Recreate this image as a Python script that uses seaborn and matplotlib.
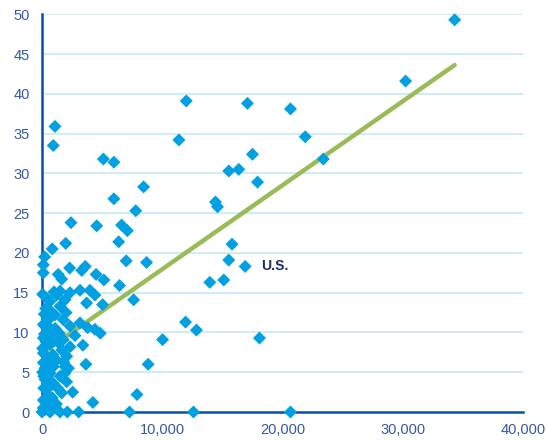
import numpy as np
import pandas as pd
import matplotlib
matplotlib.use("Agg")
import matplotlib.pyplot as plt
import seaborn as sns
from matplotlib.ticker import FuncFormatter

# values
x_vals = [
    34330, 30250, 21900, 23400, 20670, 17090, 12000, 11390, 17510, 15540,
    16370, 17930, 14430, 14600, 15810, 15540, 16900, 13960, 15120, 11940,
    12850, 18090, 12600, 20670,
    5100, 5980, 8450, 5980, 7800, 4550, 6620, 7100, 6380, 7000,
    8700, 4500, 5150, 6450, 7620, 5040, 4400, 4850, 10030, 8830,
    7900, 4230, 7280, 4400, 3990, 3160, 3710, 3300, 3600,
    1080, 940, 2410, 1970, 850, 220, 110, 110, 1350, 1640,
    2300, 470, 1000, 1500, 1910, 1500, 2330, 660, 1220, 190,
    660, 110, 2330, 3160, 3800, 1440, 2740, 110, 3400, 2330,
    1640, 660, 2050, 3650, 110, 940, 1910, 1910, 2050, 250,
    940, 1640, 2550, 390, 110, 0, 660, 1500, 2100, 3050,
    1080, 1770, 390, 1770, 110, 660, 1500, 250,
    50, 300, 500, 200, 350, 50, 400, 600, 250, 50,
    450, 700, 150, 500, 300, 600, 100, 800, 400, 150,
    700, 900, 1200, 1300, 1100, 1800, 2200, 1300, 1200, 2000,
    550, 850, 250, 1000, 650,
]
y_vals = [
    49.3, 41.6, 34.6, 31.8, 38.1, 38.8, 39.1, 34.2, 32.4, 30.3,
    30.5, 28.9, 26.4, 25.8, 21.1, 19.1, 18.3, 16.3, 16.6, 11.3,
    10.3, 9.3, 0.0, 0.0,
    31.8, 31.4, 28.3, 26.8, 25.3, 23.4, 23.5, 22.8, 21.4, 19.0,
    18.8, 17.3, 16.6, 15.9, 14.1, 13.5, 10.4, 9.9, 9.1, 6.0,
    2.2, 1.2, 0.0, 14.7, 15.3, 15.3, 13.7, 17.8, 18.3,
    35.9, 33.5, 23.8, 21.2, 20.5, 19.5, 18.5, 17.5, 17.3, 16.7,
    18.1, 14.2, 15.1, 15.2, 14.1, 13.3, 15.0, 13.9, 14.7, 12.3,
    11.8, 11.0, 10.8, 11.2, 10.6, 9.9, 9.6, 9.3, 8.4, 8.2,
    7.8, 8.5, 7.0, 6.0, 6.2, 5.7, 5.7, 4.9, 3.8, 4.1,
    3.6, 2.4, 2.5, 2.8, 1.5, 0.0, 0.0, 0.0, 0.0, 0.0,
    12.2, 11.6, 11.0, 9.1, 7.4, 4.9, 4.5, 0.3,
    14.8, 13.0, 10.0, 9.8, 8.8, 8.0, 7.0, 6.5, 5.5, 5.0,
    4.5, 3.8, 3.0, 2.0, 1.2, 0.8, 0.5, 0.2, 6.0, 4.5,
    9.5, 7.2, 6.5, 8.8, 10.5, 6.3, 5.5, 3.0, 1.0, 12.5,
    3.2, 1.8, 10.8, 6.8, 12.8,
]

# trend line
fit_intercept = 7.4
fit_slope = 0.001055

label_text = "U.S."
label_x = 18200
label_y = 18.3

x_ticks = [0, 10000, 20000, 30000, 40000]
y_ticks = [0, 5, 10, 15, 20, 25, 30, 35, 40, 45, 50]

df = pd.DataFrame({"x": x_vals, "y": y_vals})
line_x = np.array([0, df["x"].max()])
line_df = pd.DataFrame({"x": line_x, "y": fit_intercept + fit_slope * line_x})

sns.set_style("white")
plt.rcParams["font.family"] = ["Liberation Sans", "DejaVu Sans"]

point_color = "#00A0E2"
axis_color = "#0A4DAE"
tick_color = "#3459A8"
grid_color = "#C5EAF7"

fig = plt.figure(figsize=(5.47, 4.40), dpi=100)
ax = fig.add_axes([0.0768, 0.0636, 0.879, 0.904])

for yv in y_ticks[1:]:
    ax.axhline(yv, color=grid_color, lw=1.2, zorder=0)

sns.lineplot(data=line_df, x="x", y="y", ax=ax, color="#9BBB59", lw=3.2,
             solid_capstyle="round", zorder=2)
sns.scatterplot(data=df, x="x", y="y", ax=ax, marker="D", s=44,
                color=point_color, edgecolor="none", linewidth=0,
                zorder=3, clip_on=False)

ax.text(label_x, label_y, label_text, fontsize=10, fontweight="bold",
        color="#1E2C6B", va="center", ha="left")

ax.set_xlim(0, 40000)
ax.set_ylim(0, 50)
ax.set_xticks(x_ticks)
ax.set_yticks(y_ticks)
ax.xaxis.set_major_formatter(FuncFormatter(lambda v, p: f"{int(v):,}"))
ax.set_xlabel("")
ax.set_ylabel("")

for side in ["top", "right"]:
    ax.spines[side].set_visible(False)
for side in ["left", "bottom"]:
    ax.spines[side].set_color(axis_color)
    ax.spines[side].set_linewidth(1.8)

ax.tick_params(axis="both", colors=axis_color, labelcolor=tick_color,
               labelsize=10.5, length=4, width=1, direction="out")
ax.tick_params(axis="y", pad=5)
ax.tick_params(axis="x", pad=4)

fig.savefig("out.png", dpi=100)
